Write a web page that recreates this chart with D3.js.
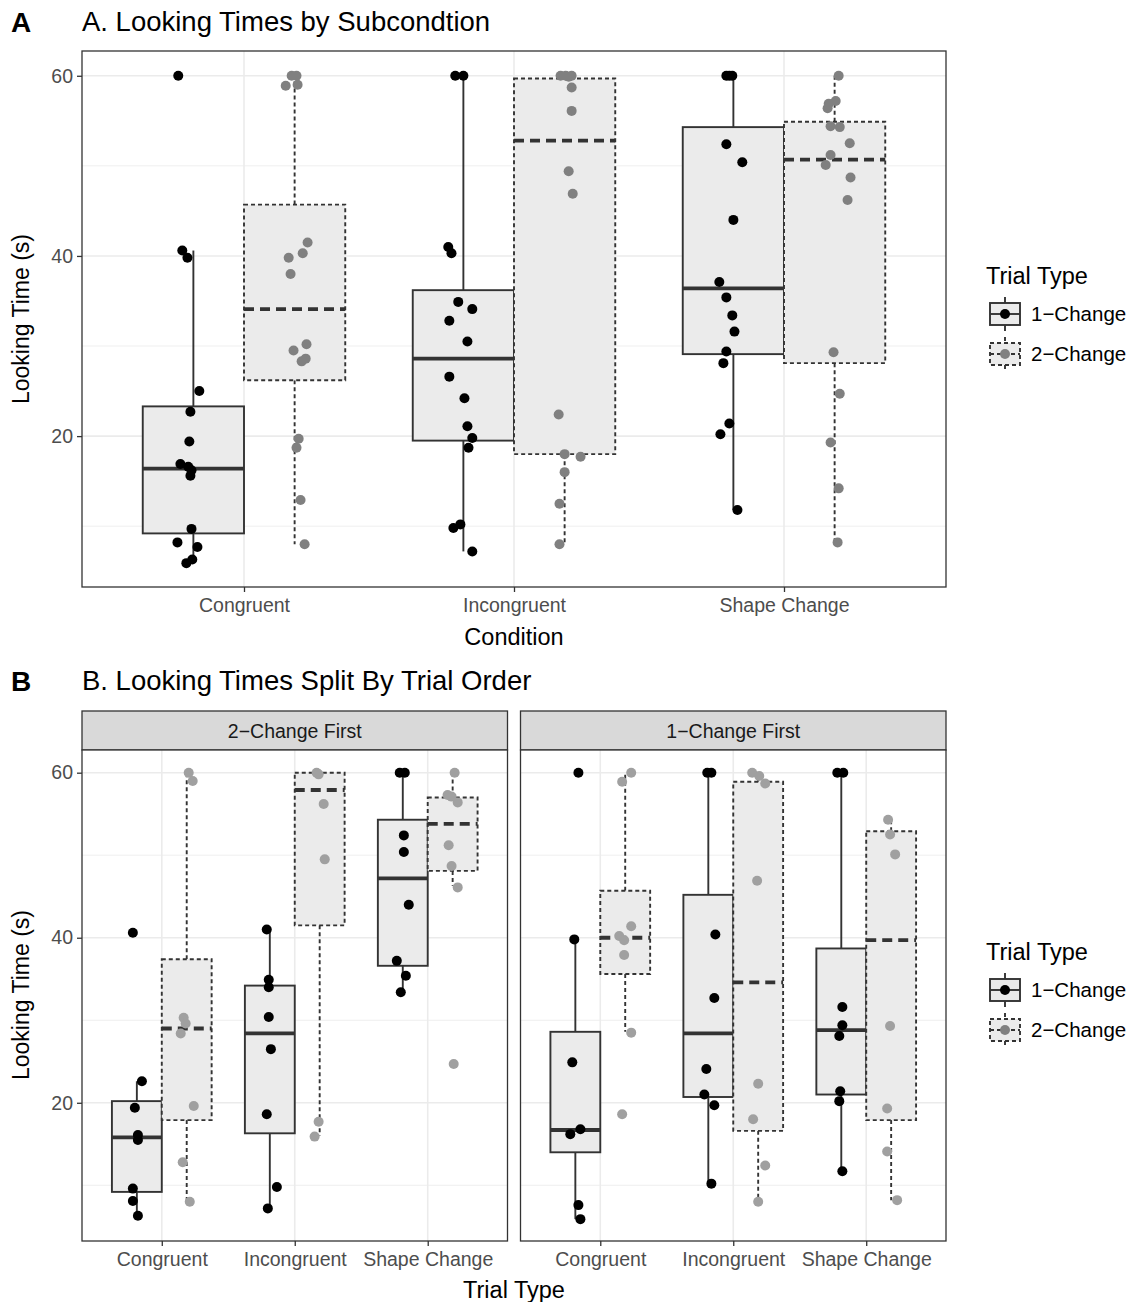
<!DOCTYPE html>
<html>
<head>
<meta charset="utf-8">
<script src="https://cdn.jsdelivr.net/npm/d3@7"></script>
<style>
  body { margin: 0; background: white; }
  text { font-family: "Liberation Sans", Arial, Helvetica, sans-serif; }
</style>
</head>
<body>
<script>
var conditions = ["Congruent", "Incongruent", "Shape Change"];
var trialTypes = ["1\u2212Change", "2\u2212Change"];
var facets = ["2\u2212Change First", "1\u2212Change First"];
var yTicks = [20, 40, 60];
var yMinor = [10, 30, 50];

// box stats per condition: [lower whisker, q1, median, q3, upper whisker]
var boxA1 = [[5.9, 9.2, 16.4, 23.3, 40.6], [7.2, 19.5, 28.6, 36.2, 60], [11.8, 29.1, 36.4, 54.3, 60]];
var boxA2 = [[8.0, 26.2, 34.1, 45.7, 60], [8.0, 18.0, 52.8, 59.7, 60], [8.2, 28.1, 50.7, 54.9, 60]];

// jittered points per condition: [value, jitter in category units]
var ptsA1 = [
  [[60,-0.056],[40.6,-0.041],[39.8,-0.022],[25.0,0.022],[22.7,-0.011],[19.4,-0.015],[16.9,-0.048],[16.6,-0.019],[16.2,-0.007],[15.6,-0.011],[9.7,-0.007],[8.2,-0.059],[7.7,0.015],[5.9,-0.026],[6.3,-0.004]],
  [[60,-0.03],[60,0],[41.0,-0.056],[40.3,-0.044],[34.9,-0.019],[34.1,0.033],[32.8,-0.052],[30.5,0.015],[26.6,-0.052],[24.2,0.004],[21.1,0.015],[19.8,0.033],[18.7,0.019],[9.8,-0.037],[10.2,-0.011],[7.2,0.033]],
  [[60,-0.026],[60,-0.015],[60,-0.004],[52.4,-0.026],[50.4,0.033],[44.0,0],[37.1,-0.052],[35.4,-0.026],[33.4,-0.004],[31.6,0.004],[29.4,-0.026],[28.1,-0.037],[21.4,-0.015],[20.2,-0.048],[11.8,0.015]]
];
var ptsA2 = [
  [[60,-0.011],[60,0.007],[58.9,-0.033],[59.0,0.011],[41.5,0.048],[40.3,0.03],[39.8,-0.022],[38.0,-0.015],[30.2,0.044],[29.5,-0.004],[28.3,0.026],[28.6,0.041],[19.7,0.015],[18.7,0.007],[12.9,0.022],[8.0,0.037]],
  [[60,-0.015],[60,0.004],[60,0.026],[59.9,0.015],[58.7,0.026],[56.1,0.026],[49.4,0.015],[46.9,0.03],[22.4,-0.022],[18.0,0],[17.7,0.059],[16.0,0],[12.5,-0.019],[8.0,-0.019]],
  [[60,0.015],[57.2,0.004],[56.9,-0.022],[56.4,-0.026],[54.4,-0.015],[54.3,0.019],[52.5,0.056],[51.2,-0.015],[50.1,-0.033],[48.7,0.059],[46.2,0.048],[29.3,-0.004],[24.7,0.019],[19.3,-0.015],[14.2,0.015],[8.2,0.011]]
];

// panel B, facet "2-Change First"
var boxB1a = [[6.3, 9.2, 15.8, 20.2, 22.6], [7.2, 16.3, 28.4, 34.2, 41.0], [33.4, 36.6, 47.2, 54.3, 60]];
var boxB2a = [[8.0, 17.9, 29.0, 37.4, 60], [16.0, 41.5, 57.9, 60, 60], [46.3, 48.1, 53.8, 57.0, 60]];
var ptsB1a = [
  [[40.6,-0.03],[22.6,0.038],[19.4,-0.015],[16.1,0.008],[15.5,0.008],[9.6,-0.03],[8.1,-0.03],[6.3,0.008]],
  [[41.0,-0.023],[34.9,-0.008],[34.0,-0.008],[30.4,-0.008],[26.5,0.008],[18.6,-0.023],[9.8,0.053],[7.2,-0.015]],
  [[60,-0.023],[60,0.015],[52.4,0.008],[50.4,0.008],[44.0,0.045],[37.2,-0.045],[35.4,0.023],[33.4,-0.015]]
];
var ptsB2a = [
  [[60,0.015],[59.0,0.045],[30.3,-0.023],[29.6,-0.008],[28.4,-0.045],[19.6,0.053],[12.8,-0.03],[8.0,0.023]],
  [[60,-0.023],[59.8,-0.008],[56.2,0.03],[49.5,0.038],[17.7,-0.008],[15.9,-0.038]],
  [[60,0.015],[57.3,-0.038],[57.1,-0.008],[56.4,0.038],[51.2,-0.03],[48.7,-0.008],[46.1,0.038],[24.7,0.008]]
];

// panel B, facet "1-Change First"
var boxB1b = [[5.9, 14.0, 16.7, 28.6, 39.8], [10.2, 20.7, 28.4, 45.2, 60], [11.7, 21.0, 28.8, 38.7, 60]];
var boxB2b = [[28.6, 35.6, 40.0, 45.7, 60], [8.0, 16.6, 34.6, 58.9, 60], [8.2, 17.9, 39.7, 52.9, 54.3]];
var ptsB1b = [
  [[60,0.023],[39.8,-0.008],[24.9,-0.023],[16.8,0.038],[16.2,-0.038],[7.6,0.023],[5.9,0.038]],
  [[60,-0.008],[60,0.023],[40.4,0.053],[32.7,0.045],[24.1,-0.015],[21.0,-0.03],[19.7,0.045],[10.2,0.023]],
  [[60,-0.03],[60,0.015],[31.6,0.008],[29.4,0.008],[28.1,-0.015],[21.4,-0.008],[20.2,-0.015],[11.7,0.008]]
];
var ptsB2b = [
  [[60,0.045],[58.9,-0.023],[41.4,0.045],[40.2,-0.045],[39.7,-0.008],[37.9,-0.008],[28.5,0.045],[18.6,-0.023]],
  [[60,-0.045],[59.6,0.008],[58.7,0.053],[46.9,-0.008],[22.3,0],[18.0,-0.038],[12.4,0.053],[8.0,0]],
  [[54.3,-0.023],[52.5,-0.008],[50.1,0.03],[29.3,-0.008],[19.3,-0.03],[14.1,-0.03],[8.2,0.045]]
];

var W = 1142, H = 1302;
var dark = "#333333", boxFill = "#ebebeb", grid = "#ebebeb";
var dashBox = "4,3", dashMed = "10,6";
var lw = 1.9;

var svg = d3.select("body").append("svg")
  .attr("width", W)
  .attr("height", H);

function drawPanel(g, w, h, box1, box2, pts1, pts2, grey, showY) {
  var x = d3.scalePoint().domain(conditions).range([0, w]).padding(0.6);
  var y = d3.scaleLinear().domain([3.25, 62.75]).range([h, 0]);
  var step = x.step();
  var bw = 0.375 * step;

  g.append("rect").attr("width", w).attr("height", h).attr("fill", "white");

  g.selectAll(".minor").data(yMinor).enter().append("line")
    .attr("x1", 0).attr("x2", w)
    .attr("y1", function(d) { return y(d); }).attr("y2", function(d) { return y(d); })
    .attr("stroke", grid).attr("stroke-width", 0.8);
  g.selectAll(".major").data(yTicks).enter().append("line")
    .attr("x1", 0).attr("x2", w)
    .attr("y1", function(d) { return y(d); }).attr("y2", function(d) { return y(d); })
    .attr("stroke", grid).attr("stroke-width", 1.6);
  g.selectAll(".vmajor").data(conditions).enter().append("line")
    .attr("y1", 0).attr("y2", h)
    .attr("x1", function(d) { return x(d); }).attr("x2", function(d) { return x(d); })
    .attr("stroke", grid).attr("stroke-width", 1.6);

  [box1, box2].forEach(function(boxes, k) {
    var off = (k === 0 ? -0.5 : 0.5) * bw;
    var dashed = k === 1;
    boxes.forEach(function(s, i) {
      var cx = x(conditions[i]) + off;
      var bg = g.append("g");
      bg.append("line")
        .attr("x1", cx).attr("x2", cx).attr("y1", y(s[3])).attr("y2", y(s[4]))
        .attr("stroke", dark).attr("stroke-width", lw)
        .attr("stroke-dasharray", dashed ? dashBox : null);
      bg.append("line")
        .attr("x1", cx).attr("x2", cx).attr("y1", y(s[1])).attr("y2", y(s[0]))
        .attr("stroke", dark).attr("stroke-width", lw)
        .attr("stroke-dasharray", dashed ? dashBox : null);
      bg.append("rect")
        .attr("x", cx - bw / 2).attr("width", bw)
        .attr("y", y(s[3])).attr("height", y(s[1]) - y(s[3]))
        .attr("fill", boxFill).attr("stroke", dark).attr("stroke-width", lw)
        .attr("stroke-dasharray", dashed ? dashBox : null);
      bg.append("line")
        .attr("x1", cx - bw / 2).attr("x2", cx + bw / 2)
        .attr("y1", y(s[2])).attr("y2", y(s[2]))
        .attr("stroke", dark).attr("stroke-width", 3.8)
        .attr("stroke-dasharray", dashed ? dashMed : null);
    });
  });

  [pts1, pts2].forEach(function(groups, k) {
    var off = (k === 0 ? -0.5 : 0.5) * bw;
    groups.forEach(function(pts, i) {
      g.selectAll(null).data(pts).enter().append("circle")
        .attr("cx", function(d) { return x(conditions[i]) + off + d[1] * step; })
        .attr("cy", function(d) { return y(d[0]); })
        .attr("r", 5)
        .attr("fill", k === 0 ? "black" : grey);
    });
  });

  g.append("rect").attr("width", w).attr("height", h)
    .attr("fill", "none").attr("stroke", dark).attr("stroke-width", 1.3);

  var xa = g.append("g").attr("transform", "translate(0," + h + ")")
    .call(d3.axisBottom(x).tickSize(5).tickPadding(6));
  xa.select(".domain").remove();
  xa.selectAll("line").attr("stroke", dark).attr("stroke-width", 1.3);
  xa.selectAll("text").attr("fill", "#4d4d4d").style("font-size", "19.5px")
    .style("font-family", "'Liberation Sans', Arial, sans-serif");

  if (showY) {
    var ya = g.append("g").call(d3.axisLeft(y).tickValues(yTicks).tickSize(5).tickPadding(4));
    ya.select(".domain").remove();
    ya.selectAll("line").attr("stroke", dark).attr("stroke-width", 1.3);
    ya.selectAll("text").attr("fill", "#4d4d4d").style("font-size", "19.5px")
      .style("font-family", "'Liberation Sans', Arial, sans-serif");
  }
}

function drawLegend(g) {
  g.append("text").attr("x", 0).attr("y", 0).style("font-size", "23.5px").attr("fill", "black").text("Trial Type");
  trialTypes.forEach(function(t, k) {
    var ky = 30 + k * 40;
    var kg = g.append("g").attr("transform", "translate(19," + ky + ")");
    var dash = k === 1 ? dashBox : null;
    kg.append("line").attr("x1", 0).attr("x2", 0).attr("y1", -17).attr("y2", 17)
      .attr("stroke", dark).attr("stroke-width", lw).attr("stroke-dasharray", dash);
    kg.append("rect").attr("x", -15).attr("y", -11).attr("width", 30).attr("height", 22)
      .attr("fill", boxFill).attr("stroke", dark).attr("stroke-width", lw).attr("stroke-dasharray", dash);
    kg.append("line").attr("x1", -15).attr("x2", 15).attr("y1", 0).attr("y2", 0)
      .attr("stroke", dark).attr("stroke-width", lw).attr("stroke-dasharray", dash);
    kg.append("circle").attr("r", 5).attr("fill", k === 0 ? "black" : "#808080");
    g.append("text").attr("x", 45).attr("y", ky + 7).style("font-size", "20.5px").attr("fill", "black").text(t);
  });
}

// Panel A
svg.append("text").attr("x", 11).attr("y", 32).style("font-size", "28px").style("font-weight", "bold").text("A");
svg.append("text").attr("x", 82).attr("y", 31).style("font-size", "27.5px").text("A. Looking Times by Subcondtion");
var pA = svg.append("g").attr("transform", "translate(82,51)");
drawPanel(pA, 864, 536, boxA1, boxA2, ptsA1, ptsA2, "#808080", true);
svg.append("text").attr("transform", "translate(29,319) rotate(-90)").attr("text-anchor", "middle")
  .style("font-size", "23px").text("Looking Time (s)");
svg.append("text").attr("x", 514).attr("y", 645).attr("text-anchor", "middle")
  .style("font-size", "23.5px").text("Condition");
drawLegend(svg.append("g").attr("transform", "translate(986,284)"));

// Panel B
svg.append("text").attr("x", 11).attr("y", 691).style("font-size", "28px").style("font-weight", "bold").text("B");
svg.append("text").attr("x", 82).attr("y", 690).style("font-size", "27.5px").text("B. Looking Times Split By Trial Order");
var fw = 425.5, gap = 13;
var bBoxes = [[boxB1a, boxB2a, ptsB1a, ptsB2a], [boxB1b, boxB2b, ptsB1b, ptsB2b]];
facets.forEach(function(f, i) {
  var fx = 82 + i * (fw + gap);
  var strip = svg.append("g").attr("transform", "translate(" + fx + ",711)");
  strip.append("rect").attr("width", fw).attr("height", 39)
    .attr("fill", "#d9d9d9").attr("stroke", dark).attr("stroke-width", 1.3);
  strip.append("text").attr("x", fw / 2).attr("y", 27).attr("text-anchor", "middle")
    .style("font-size", "19.5px").attr("fill", "#1a1a1a").text(f);
  var pg = svg.append("g").attr("transform", "translate(" + fx + ",750)");
  var b = bBoxes[i];
  drawPanel(pg, fw, 491, b[0], b[1], b[2], b[3], "#a0a0a0", i === 0);
});
svg.append("text").attr("transform", "translate(29,995) rotate(-90)").attr("text-anchor", "middle")
  .style("font-size", "23px").text("Looking Time (s)");
svg.append("text").attr("x", 514).attr("y", 1298).attr("text-anchor", "middle")
  .style("font-size", "23.5px").text("Trial Type");
drawLegend(svg.append("g").attr("transform", "translate(986,960)"));
</script>
</body>
</html>
